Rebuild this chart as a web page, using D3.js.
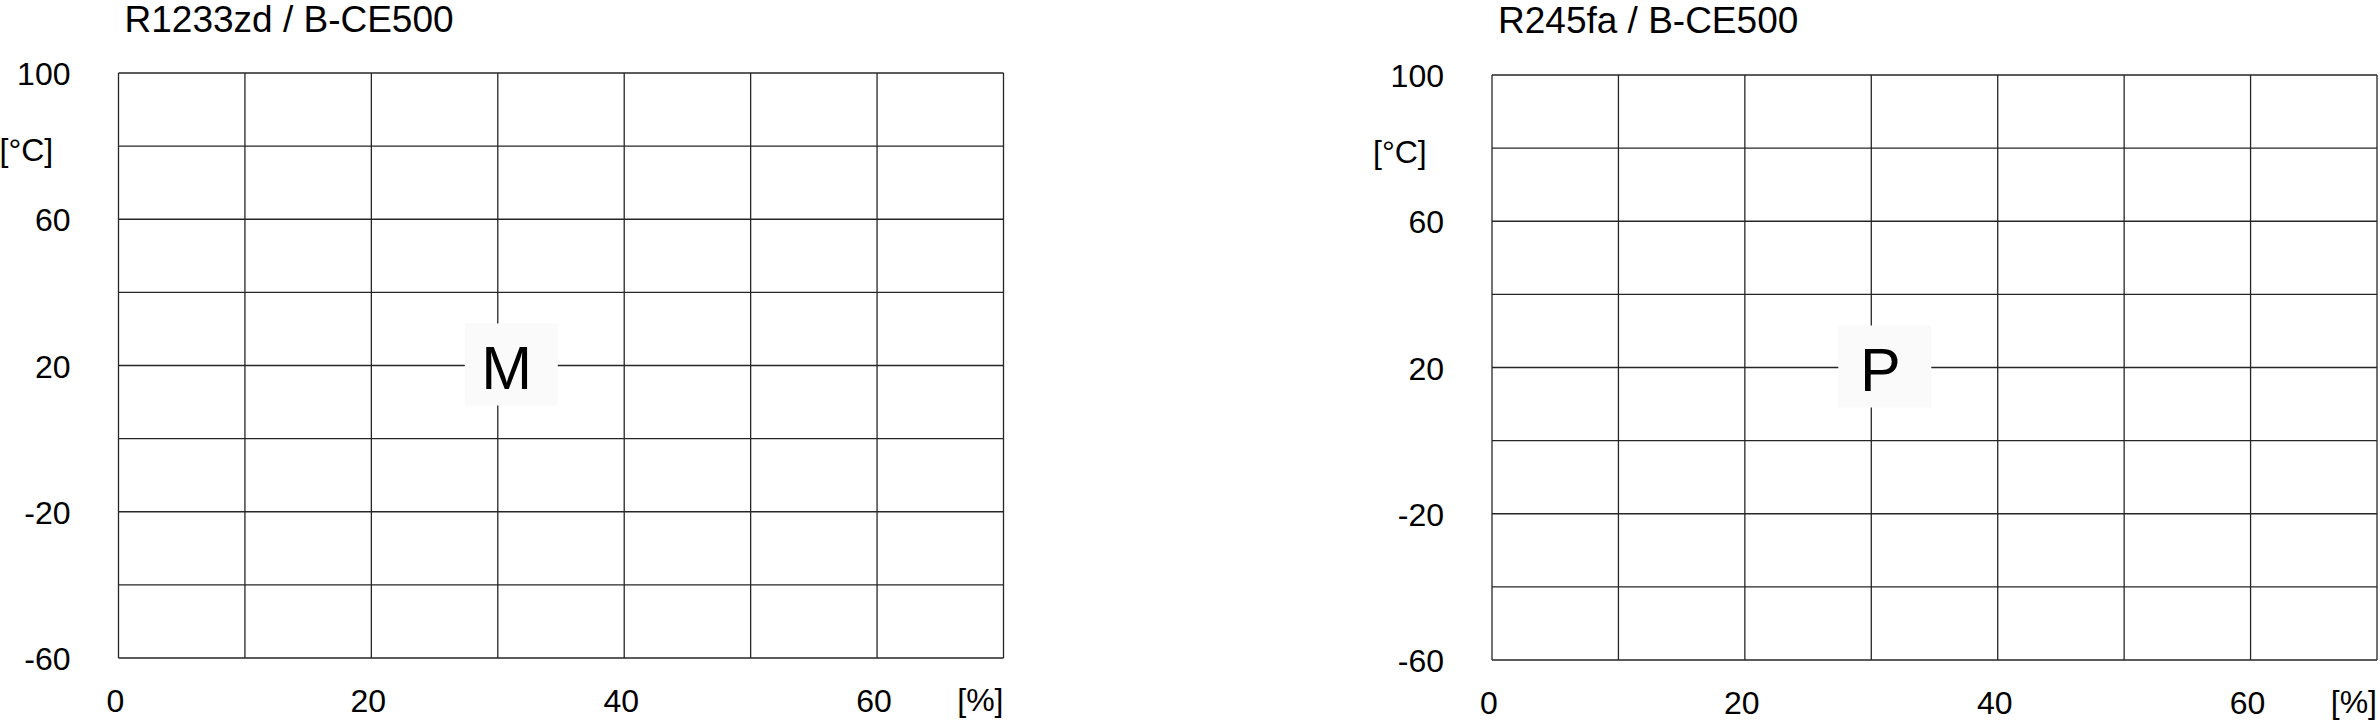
<!DOCTYPE html>
<html>
<head>
<meta charset="utf-8">
<script src="https://cdn.jsdelivr.net/npm/d3@7.9.0/dist/d3.min.js"></script>
<style>
  body { margin: 0; background: #fff; }
  svg { display: block; font-family: "Liberation Sans", Arial, sans-serif; }
  .grid line { stroke: #262626; stroke-width: 1.3; }
  .tick text { fill: #000; }
</style>
</head>
<body>
<svg id="chart" width="2380" height="723"></svg>
<script>
// chart content
const titles = ["R1233zd / B-CE500", "R245fa / B-CE500"];
const letters = ["M", "P"];
const letterAt = [30, 20]; // [% , °C] where the letter sits
const xDomain = [0, 70];
const yDomain = [-60, 100];
const xGrid = [0, 10, 20, 30, 40, 50, 60, 70];
const yGrid = [-60, -40, -20, 0, 20, 40, 60, 80, 100];
const xTicks = [0, 20, 40, 60];
const yTicks = [-60, -20, 20, 60, 100];
const xUnit = "[%]";
const yUnit = "[°C]";

// panel boxes on the page
const panels = [
  { left: 118.5, right: 1003.5, top: 73, bottom: 658, titleY: 32 },
  { left: 1492, right: 2377, top: 75, bottom: 660, titleY: 33 }
];

const svg = d3.select("#chart");
const plain = d => String(d); // keep the ascii hyphen for negatives

panels.forEach((p, i) => {
  let x = d3.scaleLinear().domain(xDomain).range([p.left, p.right]);
  let y = d3.scaleLinear().domain(yDomain).range([p.bottom, p.top]);
  let g = svg.append("g");

  // title
  g.append("text")
    .attr("x", p.left + 6)
    .attr("y", p.titleY)
    .attr("font-size", 37)
    .text(titles[i]);

  // grid
  let grid = g.append("g").attr("class", "grid");
  grid.selectAll(".v").data(xGrid).join("line")
    .attr("x1", d => x(d)).attr("x2", d => x(d))
    .attr("y1", p.top).attr("y2", p.bottom);
  grid.selectAll(".h").data(yGrid).join("line")
    .attr("y1", d => y(d)).attr("y2", d => y(d))
    .attr("x1", p.left).attr("x2", p.right);

  // y axis labels
  let yAxis = g.append("g")
    .attr("transform", `translate(${p.left},0)`)
    .call(d3.axisLeft(y).tickValues(yTicks).tickSize(0).tickPadding(48).tickFormat(plain));
  yAxis.select(".domain").remove();
  yAxis.selectAll("text").attr("font-size", 32).attr("font-family", null).attr("dy", "0.36em");

  // x axis labels
  let xAxis = g.append("g")
    .attr("transform", `translate(0,${p.bottom})`)
    .call(d3.axisBottom(x).tickValues(xTicks).tickSize(0).tickPadding(31).tickFormat(plain));
  xAxis.select(".domain").remove();
  xAxis.selectAll("text").attr("font-size", 32).attr("font-family", null).attr("dx", -3.5);

  // units
  g.append("text")
    .attr("x", p.left - 119)
    .attr("y", y(80) + 15)
    .attr("font-size", 32)
    .text(yUnit);
  g.append("text")
    .attr("x", p.right)
    .attr("y", p.bottom + 53)
    .attr("text-anchor", "end")
    .attr("font-size", 32)
    .text(xUnit);

  // region letter with its pale backing box
  let cx = x(letterAt[0]), cy = y(letterAt[1]);
  g.append("rect")
    .attr("x", cx - 33).attr("y", cy - 42)
    .attr("width", 93).attr("height", 82)
    .attr("fill", "#fafafa");
  g.append("text")
    .attr("x", cx + 9)
    .attr("y", cy + 23)
    .attr("text-anchor", "middle")
    .attr("font-size", 61)
    .text(letters[i]);
});
</script>
</body>
</html>
